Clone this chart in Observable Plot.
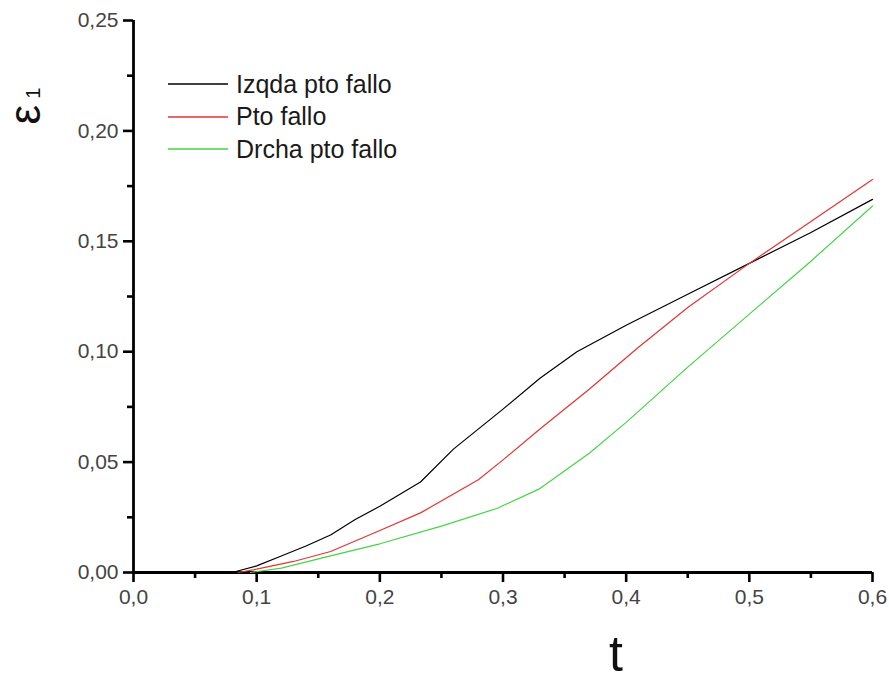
<!DOCTYPE html>
<html>
<head>
<meta charset="utf-8">
<script src="https://cdn.jsdelivr.net/npm/d3@7"></script>
<script src="https://cdn.jsdelivr.net/npm/@observablehq/plot@0.6"></script>
<style>
  body { margin: 0; background: #fff; }
  #wrap { position: relative; width: 889px; height: 680px; font-family: "Liberation Sans", Arial, sans-serif; }
  #legend { position: absolute; left: 168px; top: 68px; font-size: 25px; color: #1a1a1a; }
  .row { display: flex; align-items: center; height: 32.5px; }
  .row svg { margin-right: 8px; }
</style>
</head>
<body>
<div id="wrap"><div id="legend"></div></div>
<script>
const seriesNames = ["Izqda pto fallo", "Pto fallo", "Drcha pto fallo"];
const seriesColors = ["#000000", "#e43434", "#44d444"];

const izqdaT = [0.08, 0.1, 0.12, 0.14, 0.16, 0.18, 0.2, 0.233, 0.26, 0.3, 0.33, 0.36, 0.4, 0.45, 0.5, 0.55, 0.6];
const izqdaE = [0, 0.003, 0.0075, 0.012, 0.017, 0.024, 0.030, 0.041, 0.056, 0.074, 0.088, 0.100, 0.112, 0.126, 0.140, 0.154, 0.169];

const ptoT = [0.085, 0.1, 0.13, 0.16, 0.2, 0.233, 0.28, 0.3, 0.33, 0.37, 0.41, 0.45, 0.5, 0.55, 0.6];
const ptoE = [0, 0.0015, 0.005, 0.0095, 0.019, 0.027, 0.042, 0.051, 0.065, 0.083, 0.102, 0.120, 0.140, 0.159, 0.178];

const drchaT = [0.095, 0.12, 0.16, 0.2, 0.25, 0.295, 0.33, 0.37, 0.4, 0.45, 0.5, 0.55, 0.6];
const drchaE = [0, 0.002, 0.0075, 0.013, 0.021, 0.029, 0.038, 0.054, 0.068, 0.093, 0.117, 0.141, 0.166];

const xTicks = [0, 0.1, 0.2, 0.3, 0.4, 0.5, 0.6];
const xMinor = [0.05, 0.15, 0.25, 0.35, 0.45, 0.55];
const yTicks = [0, 0.05, 0.10, 0.15, 0.20, 0.25];
const yMinor = [0.025, 0.075, 0.125, 0.175, 0.225];

const xTitle = "t";
const yTitleMain = "ε";
const yTitleSub = "1";

const toRows = (ts, es, name) => ts.map((t, i) => ({t, e: es[i], name}));
const data = [
  ...toRows(izqdaT, izqdaE, seriesNames[0]),
  ...toRows(ptoT, ptoE, seriesNames[1]),
  ...toRows(drchaT, drchaE, seriesNames[2])
];

const fmtX = d => d.toFixed(1).replace(".", ",");
const fmtY = d => d.toFixed(2).replace(".", ",");
const blank = () => "";

const chart = Plot.plot({
  width: 889,
  height: 680,
  marginLeft: 133,
  marginRight: 17,
  marginTop: 20,
  marginBottom: 108,
  style: {fontFamily: "Liberation Sans, Arial, sans-serif", background: "#fff"},
  x: {domain: [0, 0.6]},
  y: {domain: [0, 0.25]},
  color: {domain: seriesNames, range: seriesColors},
  marks: [
    Plot.axisX(xTicks, {tickSize: 10, tickFormat: blank, stroke: "#000", strokeWidth: 2.6, label: null}),
    Plot.axisX(xMinor, {tickSize: 6, tickFormat: blank, stroke: "#000", strokeWidth: 2.6, label: null}),
    Plot.axisX(xTicks, {tickSize: 0, tickPadding: 17, tickFormat: fmtX, fontSize: 21, fill: "#444", label: null}),
    Plot.axisY(yTicks, {tickSize: 10, tickFormat: blank, stroke: "#000", strokeWidth: 2.6, label: null}),
    Plot.axisY(yMinor, {tickSize: 6, tickFormat: blank, stroke: "#000", strokeWidth: 2.6, label: null}),
    Plot.axisY(yTicks, {tickSize: 0, tickPadding: 15, tickFormat: fmtY, fontSize: 21, fill: "#444", label: null}),
    Plot.ruleY([0], {stroke: "#000", strokeWidth: 2.8}),
    Plot.ruleX([0], {stroke: "#000", strokeWidth: 2.8}),
    Plot.line(data, {x: "t", y: "e", z: "name", stroke: "name", strokeWidth: 1.2}),
    Plot.text([xTitle], {frameAnchor: "bottom", lineAnchor: "bottom", dx: 113, dy: 98, text: d => d, fontSize: 50, fill: "#111"})
  ]
});
document.getElementById("wrap").prepend(chart);

// rotated y-axis title with subscript
const svg = d3.select(chart.tagName.toLowerCase() === "svg" ? chart : chart.querySelector("svg"));
const yt = svg.append("text")
  .attr("transform", "translate(40,106) rotate(-90)")
  .attr("fill", "#111")
  .attr("font-family", "Liberation Sans, Arial, sans-serif");
yt.append("tspan").attr("font-size", 44).text(yTitleMain);
yt.append("tspan").attr("font-size", 20).attr("dx", 6).text(yTitleSub);

const legend = document.getElementById("legend");
seriesNames.forEach((n, i) => {
  const row = document.createElement("div");
  row.className = "row";
  row.innerHTML = `<svg width="60" height="4"><line x1="0" x2="60" y1="2" y2="2" stroke="${seriesColors[i]}" stroke-width="1.3"/></svg><span>${n}</span>`;
  legend.appendChild(row);
});
</script>
</body>
</html>
